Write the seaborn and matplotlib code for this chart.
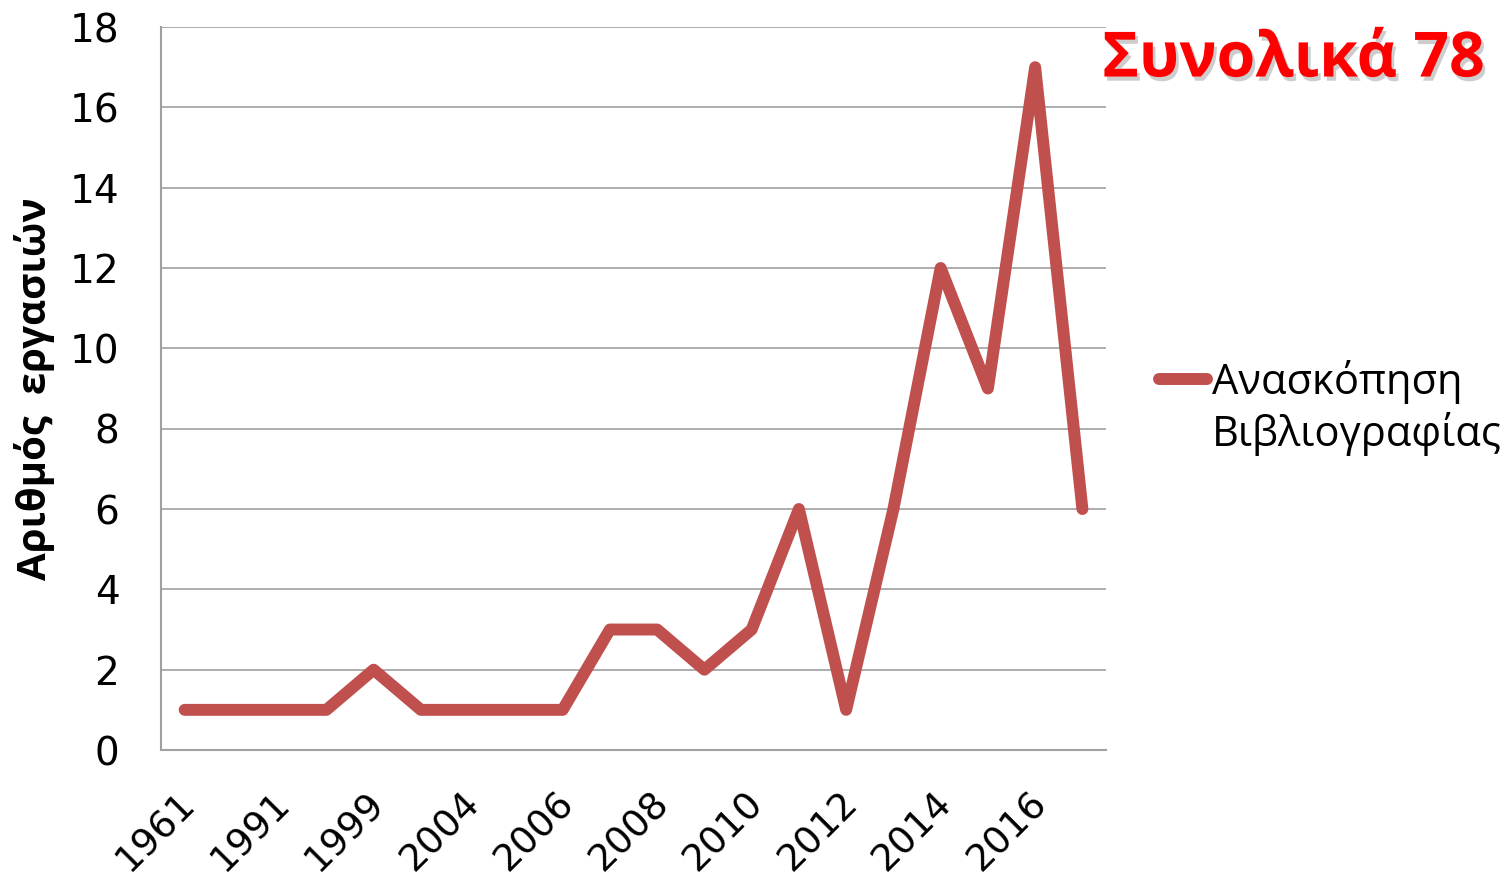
import matplotlib
matplotlib.use("Agg")
import matplotlib.pyplot as plt
import matplotlib.patheffects as pe
import matplotlib.transforms as mtransforms
from matplotlib.legend_handler import HandlerLine2D
import seaborn as sns
import pandas as pd

years = ["1961", "1985", "1991", "1996", "1999", "2002", "2004", "2005", "2006", "2007",
         "2008", "2009", "2010", "2011", "2012", "2013", "2014", "2015", "2016", "2017"]
counts = [1, 1, 1, 1, 2, 1, 1, 1, 1, 3, 3, 2, 3, 6, 1, 6, 12, 9, 17, 6]
shown_labels = years[::2]
series_name = "Ανασκόπηση\nΒιβλιογραφίας"
ylabel = "Αριθμός  εργασιών"
total_text = "Συνολικά 78"

df = pd.DataFrame({"year": years, "count": counts})

sns.set_theme(style="white")
plt.rcParams['font.family'] = ['Open Sans', 'DejaVu Sans']
plt.rcParams['text.color'] = 'black'


class ShiftedLineHandler(HandlerLine2D):
    def __init__(self, shift, **kw):
        super().__init__(**kw)
        self.shift = shift

    def create_artists(self, legend, orig_handle, xdescent, ydescent, width, height,
                       fontsize, trans):
        arts = super().create_artists(legend, orig_handle, xdescent, ydescent, width,
                                      height, fontsize, trans)
        for a in arts:
            yd = a.get_ydata()
            a.set_ydata([v + self.shift for v in yd])
        return arts


fig = plt.figure(figsize=(15.12, 8.83), dpi=100)
ax = fig.add_axes([0.1065, 0.1506, 0.625, 0.8188])

sns.lineplot(data=df, x="year", y="count", sort=False, ax=ax, color="#C0504D",
             linewidth=8.6, label=series_name,
             solid_capstyle="round", solid_joinstyle="round")

ax.set_xlim(-0.5, len(years) - 0.5)
ax.set_ylim(0, 18)
ax.set_yticks(range(0, 19, 2))
ax.set_xticks(range(0, len(years), 2))
ax.set_xticklabels(shown_labels, rotation=45, ha="right", va="top",
                   rotation_mode="anchor", fontsize=27, family=['DejaVu Sans'],
                   color="black")
ax.tick_params(axis="y", labelsize=28, length=0, pad=30, labelcolor="black")
ax.tick_params(axis="x", length=0, pad=24)
for lab in ax.get_yticklabels():
    lab.set_family(['DejaVu Sans'])
offset = mtransforms.ScaledTranslation(-7 / 100, -2 / 100, fig.dpi_scale_trans)
for lab in ax.get_xticklabels():
    lab.set_transform(lab.get_transform() + offset)

ax.yaxis.grid(True, color="#A0A0A0", linewidth=1.2)
ax.xaxis.grid(False)
for s in ["top", "right"]:
    ax.spines[s].set_visible(False)
for s in ["left", "bottom"]:
    ax.spines[s].set_color("#A0A0A0")
    ax.spines[s].set_linewidth(1.5)

ax.set_xlabel("")
ax.set_ylabel(ylabel, fontsize=29, fontweight="bold", color="black",
              family=['Open Sans', 'DejaVu Sans'])
ax.yaxis.set_label_coords(-0.112, 0.5)

line_handle = ax.get_lines()[0]
leg = ax.legend(handles=[line_handle], labels=[series_name],
                loc="center left", bbox_to_anchor=(1.0 + 53 / 945, 0.473),
                frameon=False, fontsize=30, handlelength=1.15, handletextpad=0.12,
                borderaxespad=0, borderpad=0,
                handler_map={line_handle: ShiftedLineHandler(shift=22)})
for t in leg.get_texts():
    t.set_linespacing(1.25)
    t.set_color("black")

fig.text(0.982, 0.932, total_text, color="#FF0000", fontsize=45, fontweight="bold",
         ha="right", va="center",
         path_effects=[pe.withSimplePatchShadow(offset=(2, -3), shadow_rgbFace="#707070",
                                                alpha=0.35)])

fig.savefig("out.png", dpi=100)
